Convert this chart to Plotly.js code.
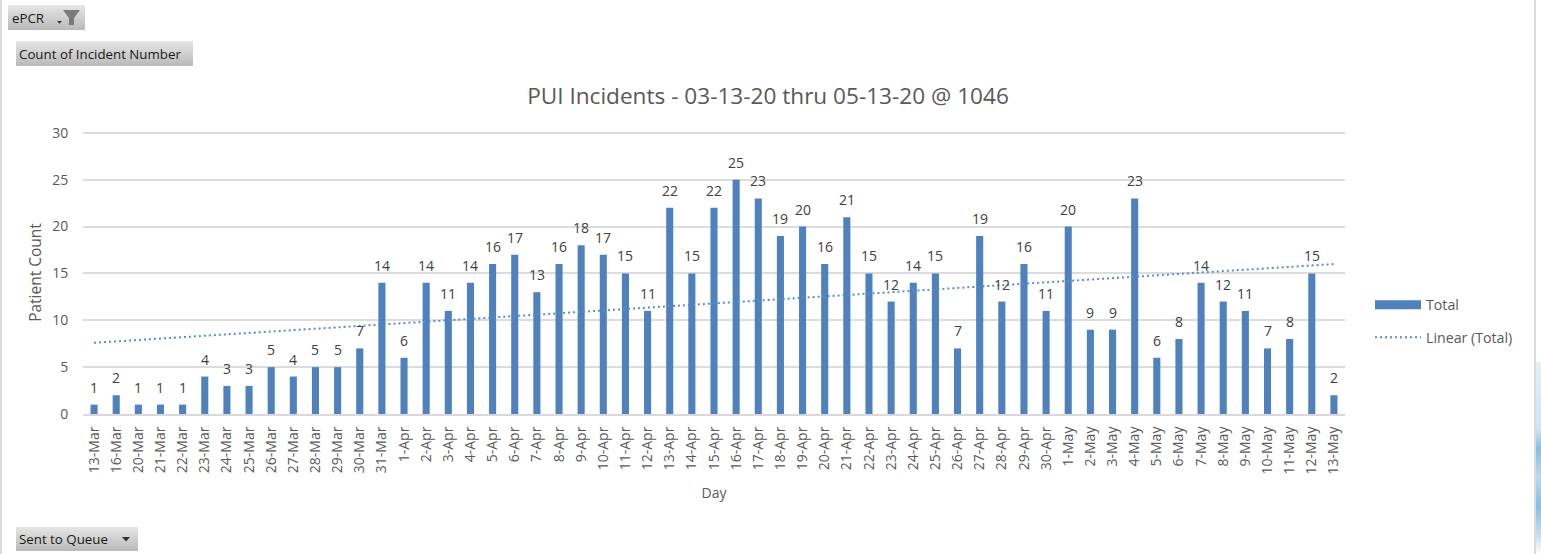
<!DOCTYPE html>
<html><head><meta charset="utf-8">
<script src="https://cdn.plot.ly/plotly-3.0.1.min.js"></script>
<style>
html,body{margin:0;padding:0;background:#fff;overflow:hidden}
#wrap{position:relative;width:1541px;height:554px;overflow:hidden;background:#fff}
#chart{position:absolute;left:0;top:0;width:1541px;height:554px}
.btn{position:absolute;background:linear-gradient(#e6e6e6,#b9b9b9)}
.edge{position:absolute;background:#dcdcdc}
</style></head>
<body><div id="wrap">
<div class="edge" style="left:0;top:0;width:2px;height:554px"></div>
<div class="edge" style="left:1534px;top:0;width:2px;height:554px"></div>
<div class="btn" style="left:8px;top:5px;width:77px;height:25px"></div>
<div class="btn" style="left:16px;top:41px;width:177px;height:25px"></div>
<div class="btn" style="left:16px;top:527px;width:122px;height:24px"></div>
<div style="position:absolute;left:1536px;top:362px;width:5px;height:192px;background:linear-gradient(#e3f0f9,#cfe4f4 35%,#86bde4 45%,#bcdaf0 60%,#86bde4 75%,#cfe4f4 92%,#ffffff)"></div>
<div id="chart"></div>
</div>
<script>
const categories = ["13-Mar","16-Mar","20-Mar","21-Mar","22-Mar","23-Mar","24-Mar","25-Mar","26-Mar","27-Mar","28-Mar","29-Mar","30-Mar","31-Mar","1-Apr","2-Apr","3-Apr","4-Apr","5-Apr","6-Apr","7-Apr","8-Apr","9-Apr","10-Apr","11-Apr","12-Apr","13-Apr","14-Apr","15-Apr","16-Apr","17-Apr","18-Apr","19-Apr","20-Apr","21-Apr","22-Apr","23-Apr","24-Apr","25-Apr","26-Apr","27-Apr","28-Apr","29-Apr","30-Apr","1-May","2-May","3-May","4-May","5-May","6-May","7-May","8-May","9-May","10-May","11-May","12-May","13-May"];
const totals = [1,2,1,1,1,4,3,3,5,4,5,5,7,14,6,14,11,14,16,17,13,16,18,17,15,11,22,15,22,25,23,19,20,16,21,15,12,14,15,7,19,12,16,11,20,9,9,23,6,8,14,12,11,7,8,15,2];
const trendX = ["13-Mar","13-May"];
const trendY = [7.6,16];

const W = 1541, H = 554;
const L = 83, T = 131, PW = 1262, PH = 283;
const px = v => (v - L) / PW, py = v => 1 - (v - T) / PH;
const FONT = '"Open Sans", sans-serif';
const BLUE = '#4f81bd';

const traces = [
  {type:'bar', x:categories, y:totals, name:'Total', width:0.32, showlegend:false,
   marker:{color:BLUE}, hoverinfo:'x+y'},
  {type:'scatter', mode:'lines', x:[null], y:[null], name:'Total', legendgroup:'a',
   line:{color:BLUE,width:9}},
  {type:'scatter', mode:'lines', x:trendX, y:trendY, name:'Linear (Total)', legendgroup:'b',
   line:{color:'#5b8cc8',width:2,dash:'2px,3px'}}
];

const tb = (text,x,y) => ({text, x:px(x), y:py(y), xref:'paper', yref:'paper', xanchor:'left', yanchor:'middle',
  showarrow:false, font:{family:FONT,size:13.3,color:'#1a1a1a'}});
const tri = (x,y,s) => ({type:'path', xref:'paper', yref:'paper',
  path:`M${px(x)},${py(y)}L${px(x+s)},${py(y)}L${px(x+s/2)},${py(y+s*0.55)}Z`, fillcolor:'#333', line:{width:0}});
const barLabels = categories.map((c,i) => ({x:c, y:totals[i], xref:'x', yref:'y', text:String(totals[i]),
  showarrow:false, yanchor:'middle', xanchor:'center', yshift:17.5,
  font:{family:FONT,size:14,color:'#404040'}}));

const layout = {
  width:W, height:H, paper_bgcolor:'rgba(0,0,0,0)', plot_bgcolor:'rgba(0,0,0,0)',
  margin:{l:L,r:W-L-PW,t:T,b:H-T-PH}, bargap:0.68,
  title:{text:'PUI Incidents - 03-13-20 thru 05-13-20 @ 1046', x:768/W, xanchor:'center', y:1-96/H, yanchor:'middle',
    font:{family:FONT,size:22.6,color:'#595959'}},
  xaxis:{type:'category', categoryorder:'array', categoryarray:categories, range:[-0.5,56.5],
    tickangle:-90, ticks:'outside', ticklen:5, tickcolor:'rgba(0,0,0,0)', showgrid:false, showline:true, linecolor:'#d9d9d9', linewidth:2,
    tickfont:{family:FONT,size:14,color:'#595959'}, automargin:false,
    title:{text:'Day', standoff:15, font:{family:FONT,size:14,color:'#595959'}}},
  yaxis:{range:[0,30.2], tickvals:[0,5,10,15,20,25,30], showgrid:true, gridcolor:'#dcdcdc', gridwidth:1.5,
    zeroline:false, ticks:'outside', ticklen:11, tickcolor:'rgba(0,0,0,0)', tickfont:{family:FONT,size:14,color:'#595959'}, automargin:false,
    title:{text:'Patient Count', standoff:6, font:{family:FONT,size:15.5,color:'#595959'}}},
  legend:{x:px(1370), xanchor:'left', y:py(289), yanchor:'top', traceorder:'grouped', tracegroupgap:11,
    itemwidth:46, font:{family:FONT,size:14.2,color:'#595959'}, bgcolor:'rgba(0,0,0,0)'},
  annotations:[tb('ePCR',10,18), tb('Count of Incident Number',17,54), tb('Sent to Queue',17,539)].concat(barLabels),
  shapes:[
    {type:'path', xref:'paper', yref:'paper',
     path:`M${px(63)},${py(10)}L${px(80)},${py(10)}L${px(74)},${py(18)}L${px(74)},${py(25)}L${px(69)},${py(25)}L${px(69)},${py(18)}Z`,
     fillcolor:'#7a7a7a', line:{width:0}},
    tri(57,21,5), tri(122,537,8)
  ],
  showlegend:true
};
Plotly.newPlot('chart', traces, layout, {displayModeBar:false, responsive:false});
</script></body></html>
